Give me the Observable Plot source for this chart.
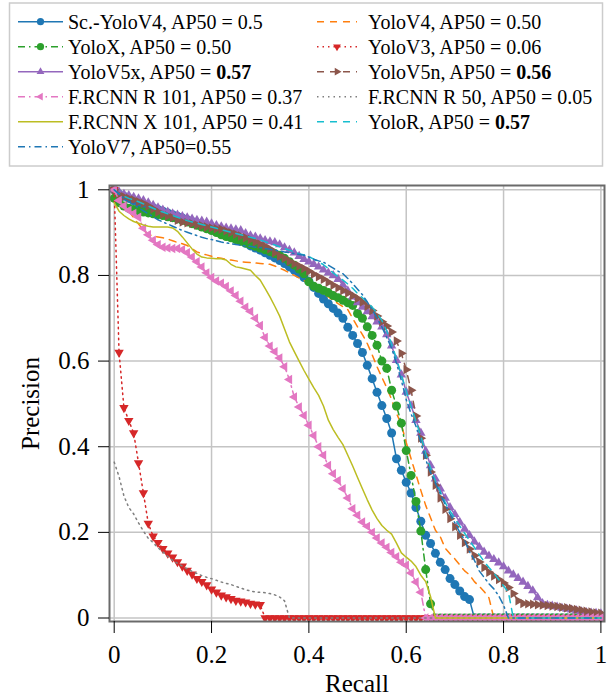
<!DOCTYPE html>
<html><head><meta charset="utf-8">
<script src="https://cdn.jsdelivr.net/npm/d3@7"></script>
<script src="https://cdn.jsdelivr.net/npm/@observablehq/plot@0.6"></script>
<style>
body{margin:0;background:#fff;}
#wrap{position:relative;width:610px;height:697px;overflow:hidden;background:#fff;}
#legend{position:absolute;left:0;top:0;}
#chart{position:absolute;left:0;top:170px;}
#chart text{font-family:'Liberation Serif','Times New Roman',Times,serif;}
</style></head><body>
<div id="wrap"><div id="legend"></div><div id="chart"></div></div>
<script>
// ---------- data ----------
const recall = [0,0.01,0.02,0.03,0.04,0.05,0.06,0.07,0.08,0.09,
 0.1,0.11,0.12,0.13,0.14,0.15,0.16,0.17,0.18,0.19,
 0.2,0.21,0.22,0.23,0.24,0.25,0.26,0.27,0.28,0.29,
 0.3,0.31,0.32,0.33,0.34,0.35,0.36,0.37,0.38,0.39,
 0.4,0.41,0.42,0.43,0.44,0.45,0.46,0.47,0.48,0.49,
 0.5,0.51,0.52,0.53,0.54,0.55,0.56,0.57,0.58,0.59,
 0.6,0.61,0.62,0.63,0.64,0.65,0.66,0.67,0.68,0.69,
 0.7,0.71,0.72,0.73,0.74,0.75,0.76,0.77,0.78,0.79,
 0.8,0.81,0.82,0.83,0.84,0.85,0.86,0.87,0.88,0.89,
 0.9,0.91,0.92,0.93,0.94,0.95,0.96,0.97,0.98,0.99,1];

const scYoloV4 = [1.0,0.99,0.985,0.98,0.975,0.97,0.966,0.962,0.958,0.954,
 0.95,0.946,0.942,0.938,0.934,0.93,0.926,0.922,0.918,0.914,
 0.91,0.906,0.901,0.896,0.89,0.885,0.88,0.875,0.869,0.864,
 0.859,0.853,0.847,0.841,0.835,0.828,0.82,0.812,0.804,0.795,
 0.786,0.772,0.758,0.745,0.734,0.723,0.712,0.70,0.679,0.66,
 0.641,0.62,0.59,0.559,0.527,0.496,0.466,0.432,0.372,0.345,
 0.317,0.292,0.258,0.226,0.193,0.174,0.151,0.13,0.113,0.092,
 0.078,0.063,0.05,0.043,0,0,0,0,0,0,
 0,0,0,0,0,0,0,0,0,0,
 0,0,0,0,0,0,0,0,0,0,0];

const yoloV4 = [1.0,0.98,0.965,0.95,0.935,0.92,0.906,0.896,0.892,0.89,
 0.888,0.885,0.881,0.877,0.874,0.87,0.862,0.855,0.851,0.848,
 0.845,0.842,0.84,0.838,0.836,0.834,0.832,0.831,0.83,0.829,
 0.828,0.827,0.826,0.822,0.817,0.812,0.806,0.80,0.794,0.788,
 0.781,0.774,0.766,0.758,0.75,0.742,0.734,0.727,0.72,0.70,
 0.68,0.662,0.641,0.615,0.587,0.562,0.538,0.51,0.478,0.452,
 0.41,0.372,0.335,0.298,0.263,0.234,0.205,0.19,0.163,0.15,
 0.138,0.124,0.11,0.101,0.085,0.074,0.062,0.047,0,0,
 0,0,0,0,0,0,0,0,0,0,
 0,0,0,0,0,0,0,0,0,0,0];

const yoloX = [0.98,0.97,0.962,0.957,0.954,0.951,0.948,0.946,0.944,0.942,
 0.94,0.937,0.935,0.932,0.929,0.925,0.921,0.917,0.913,0.909,
 0.905,0.90,0.895,0.891,0.888,0.884,0.88,0.876,0.872,0.868,
 0.864,0.86,0.856,0.851,0.847,0.84,0.832,0.824,0.815,0.804,
 0.785,0.775,0.77,0.765,0.76,0.753,0.748,0.742,0.736,0.73,
 0.711,0.70,0.68,0.66,0.637,0.60,0.583,0.532,0.495,0.455,
 0.391,0.333,0.272,0.203,0.113,0.033,0,0,0,0,
 0,0,0,0,0,0,0,0,0,0,
 0,0,0,0,0,0,0,0,0,0,
 0,0,0,0,0,0,0,0,0,0,0];

const yoloV3 = [1.0,0.62,0.491,0.461,0.432,0.362,0.292,0.221,0.191,0.176,
 0.162,0.151,0.142,0.131,0.121,0.111,0.102,0.092,0.085,0.077,
 0.067,0.06,0.053,0.049,0.045,0.041,0.039,0.037,0.034,0.032,
 0.031,0,0,0,0,0,0,0,0,0,
 0,0,0,0,0,0,0,0,0,0,
 0,0,0,0,0,0,0,0,0,0,
 0,0,0,0,0,0,0,0,0,0,
 0,0,0,0,0,0,0,0,0,0,
 0,0,0,0,0,0,0,0,0,0,
 0,0,0,0,0,0,0,0,0,0,0];

const yoloV5x = [1.0,0.995,0.99,0.987,0.983,0.979,0.975,0.97,0.964,0.958,
 0.953,0.948,0.944,0.941,0.938,0.935,0.932,0.929,0.927,0.925,
 0.921,0.917,0.914,0.911,0.909,0.907,0.905,0.898,0.893,0.89,
 0.886,0.882,0.879,0.877,0.872,0.865,0.859,0.853,0.845,0.838,
 0.832,0.826,0.82,0.813,0.806,0.80,0.791,0.778,0.764,0.75,
 0.737,0.726,0.716,0.704,0.692,0.68,0.662,0.636,0.602,0.568,
 0.528,0.496,0.462,0.432,0.39,0.356,0.325,0.302,0.28,0.258,
 0.242,0.224,0.208,0.193,0.178,0.166,0.154,0.145,0.137,0.129,
 0.12,0.11,0.101,0.093,0.084,0.074,0.064,0.048,0.034,0.03,
 0.028,0.026,0.023,0.021,0.019,0.017,0.015,0.013,0.012,0.011,0.01];

const yoloV5n = [1.0,0.988,0.984,0.98,0.976,0.972,0.968,0.962,0.955,0.948,
 0.943,0.939,0.935,0.929,0.925,0.923,0.921,0.918,0.916,0.913,
 0.911,0.909,0.908,0.904,0.90,0.896,0.892,0.888,0.884,0.878,
 0.873,0.868,0.862,0.853,0.845,0.84,0.833,0.827,0.822,0.816,
 0.81,0.803,0.797,0.791,0.784,0.777,0.771,0.765,0.759,0.753,
 0.746,0.738,0.728,0.718,0.705,0.692,0.682,0.668,0.647,0.618,
 0.58,0.532,0.472,0.42,0.38,0.341,0.31,0.28,0.254,0.232,
 0.213,0.193,0.176,0.161,0.146,0.131,0.118,0.107,0.098,0.09,
 0.082,0.071,0.057,0.04,0.034,0.033,0.032,0.031,0.03,0.029,
 0.028,0.027,0.025,0.024,0.022,0.02,0.018,0.016,0.014,0.012,0.011];

const frcnnR101 = [1.0,0.975,0.962,0.952,0.945,0.936,0.91,0.895,0.882,0.872,
 0.866,0.864,0.863,0.863,0.86,0.853,0.843,0.832,0.82,0.806,
 0.795,0.787,0.782,0.774,0.764,0.753,0.74,0.726,0.716,0.70,
 0.683,0.655,0.635,0.622,0.607,0.587,0.557,0.516,0.493,0.473,
 0.45,0.426,0.40,0.38,0.356,0.337,0.321,0.302,0.28,0.255,
 0.24,0.224,0.214,0.20,0.187,0.175,0.165,0.153,0.143,0.13,
 0.123,0.105,0.084,0.06,0,0,0,0,0,0,
 0,0,0,0,0,0,0,0,0,0,
 0,0,0,0,0,0,0,0,0,0,
 0,0,0,0,0,0,0,0,0,0,0];

const frcnnR50 = [0.364,0.33,0.285,0.258,0.243,0.222,0.203,0.186,0.176,0.164,
 0.154,0.144,0.135,0.128,0.121,0.115,0.109,0.104,0.099,0.095,
 0.092,0.088,0.084,0.081,0.078,0.074,0.07,0.066,0.063,0.061,
 0.06,0.059,0.057,0.054,0.049,0.04,0,0,0,0,
 0,0,0,0,0,0,0,0,0,0,
 0,0,0,0,0,0,0,0,0,0,
 0,0,0,0,0,0,0,0,0,0,
 0,0,0,0,0,0,0,0,0,0,
 0,0,0,0,0,0,0,0,0,0,
 0,0,0,0,0,0,0,0,0,0,0];

const frcnnX101 = [0.97,0.95,0.94,0.932,0.926,0.922,0.918,0.915,0.913,0.913,
 0.913,0.913,0.911,0.903,0.89,0.876,0.862,0.85,0.843,0.841,
 0.84,0.839,0.839,0.836,0.826,0.82,0.818,0.815,0.812,0.80,
 0.789,0.77,0.75,0.728,0.705,0.675,0.645,0.622,0.60,0.578,
 0.558,0.538,0.52,0.495,0.462,0.44,0.422,0.405,0.38,0.355,
 0.328,0.302,0.276,0.252,0.232,0.216,0.205,0.196,0.175,0.152,
 0.142,0.133,0.12,0.10,0.085,0.05,0,0,0,0,
 0,0,0,0,0,0,0,0,0,0,
 0,0,0,0,0,0,0,0,0,0,
 0,0,0,0,0,0,0,0,0,0,0];

const yoloR = [1.0,0.99,0.985,0.98,0.976,0.972,0.967,0.962,0.957,0.952,
 0.948,0.944,0.94,0.936,0.932,0.928,0.925,0.922,0.919,0.916,
 0.913,0.91,0.907,0.904,0.901,0.898,0.895,0.892,0.889,0.886,
 0.883,0.879,0.875,0.871,0.867,0.863,0.859,0.855,0.851,0.848,
 0.844,0.838,0.832,0.825,0.816,0.806,0.797,0.789,0.78,0.77,
 0.758,0.748,0.738,0.726,0.712,0.695,0.67,0.64,0.605,0.568,
 0.53,0.494,0.46,0.425,0.385,0.35,0.32,0.295,0.27,0.25,
 0.232,0.215,0.198,0.181,0.165,0.148,0.132,0.118,0.105,0.09,
 0.075,0.06,0,0,0,0,0,0,0,0,
 0,0,0,0,0,0,0,0,0,0,0];

const yoloV7 = [1.0,0.99,0.98,0.972,0.965,0.958,0.951,0.944,0.937,0.93,
 0.925,0.92,0.915,0.91,0.905,0.901,0.897,0.893,0.889,0.886,
 0.884,0.881,0.878,0.876,0.874,0.872,0.871,0.869,0.868,0.866,
 0.865,0.863,0.861,0.859,0.857,0.855,0.853,0.851,0.849,0.847,
 0.843,0.838,0.834,0.831,0.824,0.817,0.81,0.804,0.793,0.781,
 0.768,0.755,0.738,0.72,0.70,0.68,0.655,0.63,0.595,0.555,
 0.51,0.477,0.448,0.41,0.37,0.34,0.315,0.29,0.265,0.243,
 0.222,0.2,0.182,0.155,0.135,0.11,0.095,0.08,0.068,0.052,
 0.03,0,0,0,0,0,0,0,0,0,
 0,0,0,0,0,0,0,0,0,0,0];

const seriesValues = [scYoloV4, yoloV4, yoloX, yoloV3, yoloV5x, yoloV5n, frcnnR101, frcnnR50, frcnnX101, yoloR, yoloV7];
const labelPrefixes = ["Sc.-YoloV4, AP50 = ","YoloV4, AP50 = ","YoloX, AP50 = ","YoloV3, AP50 = ","YoloV5x, AP50 = ","YoloV5n, AP50 = ","F.RCNN R 101, AP50 = ","F.RCNN R 50, AP50 = ","F.RCNN X 101, AP50 = ","YoloR, AP50 = ","YoloV7, AP50="];
const ap50Labels = ["0.5","0.50","0.50","0.06","0.57","0.56","0.37","0.05","0.41","0.57","0.55"];
const ap50Bold = [false,false,false,false,true,true,false,false,false,true,false];
const colors = ["#1f77b4","#ff7f0e","#2ca02c","#d62728","#9467bd","#8c564b","#e377c2","#7f7f7f","#bcbd22","#17becf","#1f77b4"];
const dashes = [null,"7,6","7,4,1.5,4","1.5,4",null,"7,6","7,4,1.5,4","1.5,4",null,"7,6","7,4,1.5,4"];
const markerKinds = ["circle",null,"circle","down","up","right","left",null,null,null,null];

const xTicks = [0,0.2,0.4,0.6,0.8,1];
const yTicks = [0,0.2,0.4,0.6,0.8,1];

// ---------- helpers ----------
const FONT = "'Liberation Serif','Times New Roman',Times,serif";
function triangle(angle) {
  return {draw(ctx, size) {
    const y = -Math.sqrt(size / (3 * Math.sqrt(3)));
    const pts = [[0, 2 * y], [-Math.sqrt(3) * y, -y], [Math.sqrt(3) * y, -y]];
    const a = angle * Math.PI / 180, c = Math.cos(a), s = Math.sin(a);
    pts.forEach(([px, py], i) => {
      const X = px * c - py * s, Y = px * s + py * c;
      if (i) ctx.lineTo(X, Y); else ctx.moveTo(X, Y);
    });
    ctx.closePath();
  }};
}
const symbolFor = {circle: d3.symbolCircle, up: triangle(0), right: triangle(90), down: triangle(180), left: triangle(-90)};

// ---------- chart ----------
const marks = [
  Plot.gridX(xTicks, {stroke: "#c4c4c4", strokeOpacity: 1, strokeWidth: 1.5}),
  Plot.gridY(yTicks, {stroke: "#c4c4c4", strokeOpacity: 1, strokeWidth: 1.5})
];
seriesValues.forEach((vals, i) => {
  const rows = recall.map((r, j) => ({recall: r, precision: vals[j]}));
  marks.push(Plot.line(rows, {x: "recall", y: "precision", stroke: colors[i], strokeWidth: 1.5,
    strokeDasharray: dashes[i] || undefined, clip: true}));
  const mk = markerKinds[i];
  if (mk) {
    marks.push(Plot.dot(rows, {x: "recall", y: "precision", symbol: symbolFor[mk],
      r: mk === "circle" ? 4.5 : 3.5, fill: colors[i], stroke: "none", clip: true}));
  }
});
marks.push(Plot.frame({stroke: "#6a6a6a", strokeWidth: 2}));
marks.push(Plot.axisX(xTicks, {anchor: "bottom", tickSize: 12, tickPadding: 12, tickFormat: d => String(d),
  fontSize: 25, fontFamily: FONT, label: "Recall", labelAnchor: "center", labelArrow: "none", labelOffset: 70}));
marks.push(Plot.axisY(yTicks, {anchor: "left", tickSize: 11, tickPadding: 9, tickFormat: d => String(d),
  fontSize: 25, fontFamily: FONT, label: "Precision", labelAnchor: "center", labelArrow: "none", labelOffset: 88}));

const chart = Plot.plot({
  width: 610, height: 527,
  marginLeft: 109, marginRight: 6, marginTop: 15, marginBottom: 76,
  style: {fontFamily: FONT, fontSize: "25px", color: "black", background: "transparent", overflow: "visible"},
  x: {domain: [0, 1], range: [113.7, 600.4]},
  y: {domain: [0, 1], range: [447.5, 19.3]},
  marks
});
document.getElementById("chart").append(chart);

// ---------- legend ----------
const leg = d3.create("svg").attr("width", 610).attr("height", 170)
  .style("font-family", FONT).style("font-size", "20px");
leg.append("rect").attr("x", 9.5).attr("y", 3).attr("width", 593).attr("height", 163)
  .attr("fill", "white").attr("stroke", "#cccccc").attr("stroke-width", 1.5);
seriesValues.forEach((vals, i) => {
  const col = i % 2, row = Math.floor(i / 2);
  const x0 = col ? 317 : 18, x1 = col ? 357 : 63;
  const cy = 21.7 + 25 * row;
  leg.append("line").attr("x1", x0).attr("x2", x1).attr("y1", cy).attr("y2", cy)
    .attr("stroke", colors[i]).attr("stroke-width", 1.5)
    .attr("stroke-dasharray", dashes[i]);
  const mk = markerKinds[i];
  if (mk) {
    const size = mk === "circle" ? Math.PI * 3.6 * 3.6 : Math.PI * 2.9 * 2.9;
    leg.append("path").attr("d", d3.symbol(symbolFor[mk], size)())
      .attr("transform", `translate(${(x0 + x1) / 2},${cy})`).attr("fill", colors[i]);
  }
  const t = leg.append("text").attr("x", col ? 368 : 68).attr("y", cy + 6.8).attr("fill", "black");
  t.append("tspan").text(labelPrefixes[i]);
  t.append("tspan").attr("font-weight", ap50Bold[i] ? "bold" : null).text(ap50Labels[i]);
});
document.getElementById("legend").append(leg.node());
</script></body></html>
